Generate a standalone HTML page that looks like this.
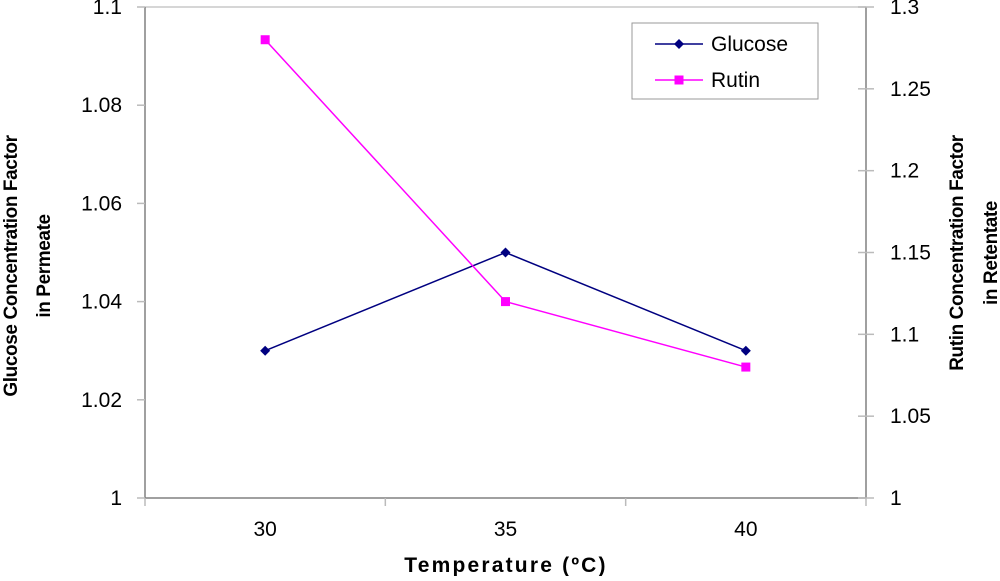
<!DOCTYPE html>
<html><head><meta charset="utf-8"><style>
body{margin:0;background:#fff;font-family:"Liberation Sans",sans-serif}
svg text{font-family:"Liberation Sans",sans-serif}
</style></head><body>
<svg id="c" width="1000" height="576" xmlns="http://www.w3.org/2000/svg"></svg>
<script>
const categories=["30","35","40"];
const glucose=[1.03,1.05,1.03];
const rutin=[1.28,1.12,1.08];
const leftTicks=[1,1.02,1.04,1.06,1.08,1.1];
const leftLabels=["1","1.02","1.04","1.06","1.08","1.1"];
const rightTicks=[1,1.05,1.1,1.15,1.2,1.25,1.3];
const rightLabels=["1","1.05","1.1","1.15","1.2","1.25","1.3"];
const svg=document.getElementById('c');
const NS="http://www.w3.org/2000/svg";
const L=145,R=866,T=7,B=498;
const yL=v=>B-(v-1)/0.1*(B-T);
const yR=v=>B-(v-1)/0.3*(B-T);
const cw=(R-L)/categories.length;
const x=i=>L+cw*(i+0.5);
function mk(tag,a,name,parent){const e=document.createElementNS(NS,tag);for(const k in a)e.setAttribute(k,a[k]);


(parent||svg).appendChild(e);return e;}
function txt(s,a,name){const e=mk('text',a,name);e.textContent=s;return e;}
mk('line',{x1:L,y1:T,x2:R,y2:T,stroke:'#c8c8c8','stroke-width':1.5},'plot-top-border');
mk('line',{x1:L,y1:B,x2:R,y2:B,stroke:'#808080','stroke-width':1.5},'x-axis');
mk('line',{x1:L,y1:T,x2:L,y2:B,stroke:'#808080','stroke-width':1.5},'left-y-axis');
mk('line',{x1:R,y1:T,x2:R,y2:B,stroke:'#808080','stroke-width':1.5},'right-y-axis');
leftTicks.forEach((v,i)=>{mk('line',{x1:L-8,y1:yL(v),x2:L,y2:yL(v),stroke:'#bbb','stroke-width':1.5},'left-tick');
txt(leftLabels[i],{x:L-23,y:yL(v)+7,'font-size':21,'text-anchor':'end',fill:'#000'},'left-tick-label');});
rightTicks.forEach((v,i)=>{mk('line',{x1:R-8,y1:yR(v),x2:R+8,y2:yR(v),stroke:'#bbb','stroke-width':1.5},'right-tick');
txt(rightLabels[i],{x:R+24,y:yR(v)+7,'font-size':21,'text-anchor':'start',fill:'#000'},'right-tick-label');});
for(let i=0;i<=categories.length;i++)mk('line',{x1:L+cw*i,y1:B,x2:L+cw*i,y2:B+8,stroke:'#bbb','stroke-width':1.5},'x-tick');
categories.forEach((c,i)=>txt(c,{x:x(i),y:536,'font-size':21,'text-anchor':'middle'},'x-tick-label'));
txt('Temperature (ºC)',{x:506,y:572,'font-size':21,'font-weight':'bold','text-anchor':'middle','letter-spacing':'2.2'},'x-axis-title');
const lt=mk('text',{transform:'translate(17,266) rotate(-90)','font-size':19,'font-weight':'bold','text-anchor':'middle','letter-spacing':'-0.4'},'left-y-axis-title');
lt.innerHTML='<tspan x="0" dy="0">Glucose Concentration Factor</tspan><tspan x="0" dy="33">in Permeate</tspan>';
const rt=mk('text',{transform:'translate(963,253) rotate(-90)','font-size':19,'font-weight':'bold','text-anchor':'middle','letter-spacing':'-0.4'},'right-y-axis-title');
rt.innerHTML='<tspan x="0" dy="0">Rutin Concentration Factor</tspan><tspan x="0" dy="34">in Retentate</tspan>';
mk('polyline',{points:glucose.map((v,i)=>x(i)+','+yL(v)).join(' '),fill:'none',stroke:'#000080','stroke-width':1.5},'glucose-line');
mk('polyline',{points:rutin.map((v,i)=>x(i)+','+yR(v)).join(' '),fill:'none',stroke:'#ff00ff','stroke-width':1.5},'rutin-line');
glucose.forEach((v,i)=>{const cx=x(i),cy=yL(v);mk('polygon',{points:`${cx},${cy-5} ${cx+5},${cy} ${cx},${cy+5} ${cx-5},${cy}`,fill:'#000080'},'glucose-point');});
rutin.forEach((v,i)=>{mk('rect',{x:x(i)-4.5,y:yR(v)-4.5,width:9,height:9,fill:'#ff00ff'},'rutin-point');});
const g=mk('g',{},'legend');
mk('rect',{x:632,y:23,width:186,height:76,fill:'#fff',stroke:'#999','stroke-width':1},'legend-box',g);
mk('line',{x1:655,y1:44,x2:703,y2:44,stroke:'#000080','stroke-width':1.5},'legend-glucose-line',g);
mk('polygon',{points:'679,39 684,44 679,49 674,44',fill:'#000080'},'legend-glucose-marker',g);
mk('line',{x1:655,y1:80,x2:703,y2:80,stroke:'#ff00ff','stroke-width':1.5},'legend-rutin-line',g);
mk('rect',{x:674.5,y:75.5,width:9,height:9,fill:'#ff00ff'},'legend-rutin-marker',g);
txt('Glucose',{x:711,y:51,'font-size':21},'legend-glucose-label');
txt('Rutin',{x:711,y:87,'font-size':21},'legend-rutin-label');
</script>
</body></html>
